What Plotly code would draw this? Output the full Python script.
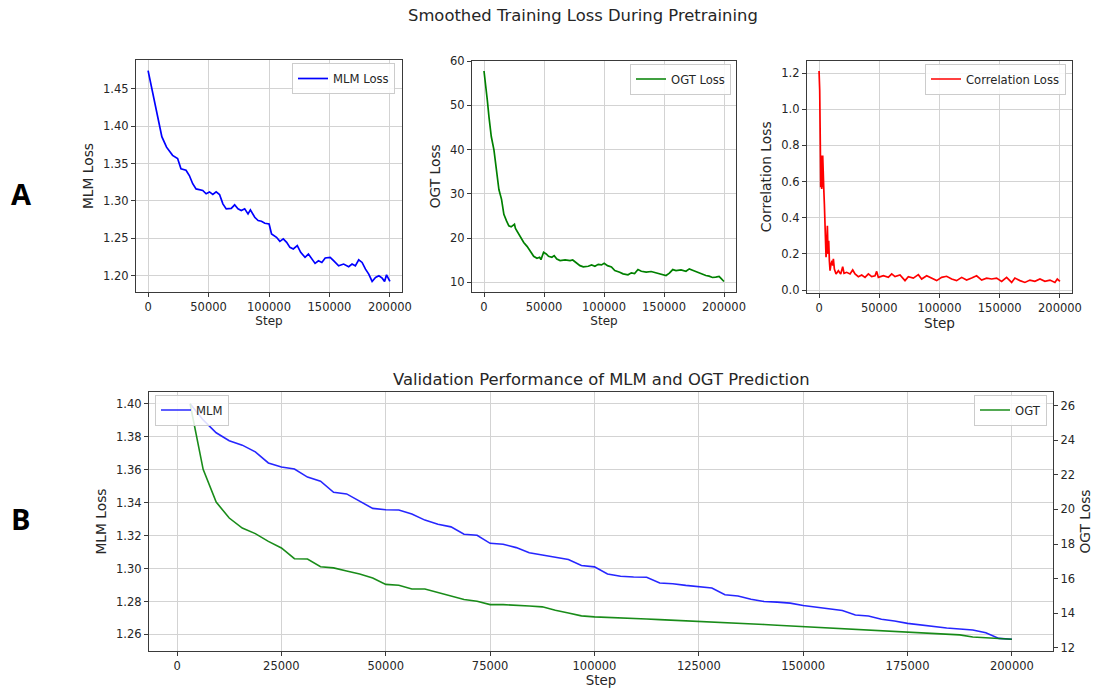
import plotly.graph_objects as go

# ---------------- data ----------------
mlm_train_steps = [0, 2219, 4993, 8600, 11373, 15257, 20250, 24411, 25800, 27190, 31350, 34120,
                   36900, 39670, 45220, 48000, 50760, 53540, 56310, 59090, 61860, 64630, 68800,
                   71570, 74340, 77120, 79890, 82660, 84600, 88200, 91000, 93760, 96540, 100100,
                   102100, 106200, 109000, 111800, 114600, 117300, 120100, 123400, 126200, 129800,
                   132600, 135400, 138100, 140900, 143700, 146500, 150600, 153400, 157600, 161700,
                   165900, 168700, 171400, 174200, 177000, 179800, 182500, 185300, 188100, 190900,
                   193600, 195600, 197200, 200000]
mlm_train_loss = [1.4747, 1.4576, 1.4397, 1.4080, 1.3860, 1.3720, 1.3610, 1.3567, 1.3500, 1.3430,
                  1.3410, 1.3340, 1.3230, 1.3160, 1.3140, 1.3095, 1.3120, 1.3086, 1.3120, 1.3086,
                  1.2960, 1.2893, 1.2900, 1.2947, 1.2893, 1.2870, 1.2893, 1.2826, 1.2880, 1.2780,
                  1.2736, 1.2727, 1.2700, 1.2691, 1.2557, 1.2512, 1.2458, 1.2490, 1.2445, 1.2377,
                  1.2355, 1.2400, 1.2310, 1.2243, 1.2287, 1.2220, 1.2162, 1.2198, 1.2175, 1.2234,
                  1.2243, 1.2198, 1.2130, 1.2153, 1.2117, 1.2153, 1.2130, 1.2211, 1.2175, 1.2085,
                  1.2018, 1.1920, 1.1973, 1.1996, 1.1964, 1.1920, 1.2009, 1.1920]

ogt_train_steps = [0, 1380, 2760, 4140, 6070, 8280, 10480, 12420, 14620, 16550, 18760, 20690,
                   22620, 24280, 25380, 26210, 28140, 30350, 33110, 35870, 38630, 41390, 44140,
                   46350, 47460, 49660, 51870, 53800, 56560, 58500, 60700, 63460, 67600, 71730,
                   73940, 77250, 80010, 82770, 86910, 89670, 92430, 95190, 97950, 100150, 102900,
                   106200, 109000, 113100, 115900, 120000, 122800, 125500, 128300, 131100, 135200,
                   139300, 143500, 147600, 151700, 154500, 157300, 160000, 164200, 168300, 171100,
                   173800, 176600, 180700, 184900, 187600, 190400, 193100, 195900, 197300, 198700,
                   200000]
ogt_train_loss = [57.76, 54.9, 51.2, 47.4, 42.96, 39.97, 35.5, 31.0, 28.76, 25.4, 23.9, 22.8,
                  22.56, 22.9, 23.15, 22.2, 21.3, 20.4, 19.04, 18.15, 16.95, 15.9, 15.46, 15.68,
                  15.16, 16.8, 16.43, 15.9, 15.68, 16.05, 15.3, 14.93, 15.08, 14.93, 15.08, 14.41,
                  13.8, 13.51, 13.66, 13.96, 13.66, 14.1, 13.96, 14.33, 13.8, 13.51, 12.69, 12.32,
                  11.94, 11.72, 12.17, 12.02, 12.91, 12.54, 12.32, 12.47, 12.17, 11.79, 11.57, 12.1,
                  12.91, 12.69, 12.84, 12.54, 13.06, 12.76, 12.47, 11.94, 11.57, 11.42, 11.12, 11.2,
                  11.35, 10.97, 10.67, 10.22]

corr_train_steps = [0, 550, 1100, 1380, 1660, 1940, 2210, 2490, 2770, 3040, 3320, 3870, 4430,
                    5260, 5810, 6360, 6920, 7470, 8020, 8570, 9130, 9960, 10800, 11340, 11890,
                    12720, 14100, 16040, 17980, 19640, 20750, 22960, 25720, 27940, 29870, 32640,
                    35400, 38170, 40940, 43700, 46470, 47850, 49230, 53380, 57530, 60300, 63070,
                    67210, 71360, 74130, 78280, 82430, 85190, 89340, 93490, 97640, 101800, 105900,
                    110100, 114200, 118400, 122500, 126700, 130800, 135000, 139100, 143300, 147400,
                    151600, 155700, 159900, 162600, 166800, 170900, 175100, 179200, 183400, 187500,
                    191700, 195800, 197800, 200000]
corr_train_loss = [1.211, 1.104, 0.772, 0.569, 0.605, 0.735, 0.559, 0.744, 0.569, 0.744, 0.605,
                   0.569, 0.476, 0.273, 0.181, 0.236, 0.356, 0.199, 0.273, 0.162, 0.107, 0.144,
                   0.162, 0.135, 0.172, 0.116, 0.089, 0.107, 0.089, 0.129, 0.092, 0.098, 0.089,
                   0.111, 0.089, 0.074, 0.083, 0.070, 0.089, 0.074, 0.079, 0.103, 0.070, 0.079,
                   0.070, 0.089, 0.074, 0.083, 0.052, 0.074, 0.066, 0.085, 0.061, 0.079, 0.066,
                   0.052, 0.070, 0.076, 0.061, 0.052, 0.070, 0.055, 0.066, 0.079, 0.055, 0.066,
                   0.061, 0.066, 0.048, 0.070, 0.042, 0.066, 0.052, 0.042, 0.055, 0.048, 0.061,
                   0.048, 0.055, 0.042, 0.061, 0.048]

val_steps = [3125, 6250, 9375, 12500, 15625, 18750, 21875, 25000, 28125, 31250, 34375, 37500,
             40625, 43750, 46875, 50000, 53125, 56250, 59375, 62500, 65625, 68750, 71875, 75000,
             78125, 81250, 84375, 87500, 90625, 93750, 96875, 100000, 103125, 106250, 109375,
             112500, 115625, 118750, 121875, 125000, 128125, 131250, 134375, 137500, 140625,
             143750, 146875, 150000, 153125, 156250, 159375, 162500, 165625, 168750, 171875,
             175000, 178125, 181250, 184375, 187500, 190625, 193750, 196875, 200000]
val_mlm = [1.4000, 1.3902, 1.3824, 1.3776, 1.3749, 1.3708, 1.3641, 1.3616, 1.3604, 1.3555,
           1.3530, 1.3463, 1.3453, 1.3408, 1.3365, 1.3357, 1.3355, 1.3331, 1.3294, 1.3269,
           1.3253, 1.3208, 1.3202, 1.3153, 1.3147, 1.3127, 1.3096, 1.3082, 1.3069, 1.3055,
           1.3018, 1.3010, 1.2967, 1.2953, 1.2949, 1.2947, 1.2912, 1.2908, 1.2898, 1.2888,
           1.2882, 1.2841, 1.2833, 1.2814, 1.2800, 1.2796, 1.2790, 1.2776, 1.2765, 1.2757,
           1.2745, 1.2718, 1.2712, 1.2692, 1.2682, 1.2667, 1.2657, 1.2647, 1.2639, 1.2633,
           1.2627, 1.2610, 1.2576, 1.2571]
val_ogt = [26.10, 22.31, 20.42, 19.50, 18.92, 18.60, 18.15, 17.77, 17.15, 17.13, 16.69, 16.62,
           16.44, 16.27, 16.04, 15.67, 15.62, 15.40, 15.40, 15.19, 15.00, 14.79, 14.69, 14.50,
           14.50, 14.48, 14.42, 14.37, 14.17, 14.02, 13.85, 13.79, 13.77, 13.74, 13.71, 13.67,
           13.63, 13.60, 13.56, 13.52, 13.49, 13.46, 13.42, 13.38, 13.35, 13.31, 13.27, 13.23,
           13.20, 13.16, 13.12, 13.09, 13.05, 13.01, 12.97, 12.94, 12.90, 12.84, 12.80, 12.75,
           12.63, 12.60, 12.55, 12.50]

top_x_ticks = [0, 50000, 100000, 150000, 200000]
bottom_x_ticks = [0, 25000, 50000, 75000, 100000, 125000, 150000, 175000, 200000]
mlm_ticks = [1.20, 1.25, 1.30, 1.35, 1.40, 1.45]
ogt_ticks = [10, 20, 30, 40, 50, 60]
corr_ticks = [0.0, 0.2, 0.4, 0.6, 0.8, 1.0, 1.2]
val_mlm_ticks = [1.26, 1.28, 1.30, 1.32, 1.34, 1.36, 1.38, 1.40]
val_ogt_ticks = [12, 14, 16, 18, 20, 22, 24, 26]


def pad_range(values, frac=0.05):
    lo, hi = min(values), max(values)
    d = (hi - lo) * frac
    return [lo - d, hi + d]


W, H = 1099, 692
FONT = "DejaVu Sans"
TXT = "#262626"
SPINE = "#3a3a3a"
GRID = "#d3d3d3"


def px_dom_x(a, b):
    return [a / W, b / W]


def px_dom_y(top, bottom):
    return [1 - bottom / H, 1 - top / H]


def axis_style(**kw):
    d = dict(showline=True, mirror=True, linecolor=SPINE, linewidth=1.2,
             ticks="outside", ticklen=4, tickcolor=SPINE, tickwidth=1,
             showgrid=True, gridcolor=GRID, gridwidth=1, zeroline=False, automargin=False,
             tickfont=dict(family=FONT, size=11.5, color=TXT))
    d.update(kw)
    return d


fig = go.Figure()

fig.add_trace(go.Scatter(x=mlm_train_steps, y=mlm_train_loss, mode="lines", name="MLM Loss",
                         line=dict(color="blue", width=1.7), xaxis="x", yaxis="y", legend="legend",
                         showlegend=True))
fig.add_trace(go.Scatter(x=ogt_train_steps, y=ogt_train_loss, mode="lines", name="OGT Loss",
                         line=dict(color="green", width=1.7), xaxis="x2", yaxis="y2", legend="legend2",
                         showlegend=True))
fig.add_trace(go.Scatter(x=corr_train_steps, y=corr_train_loss, mode="lines", name="Correlation Loss",
                         line=dict(color="red", width=1.7), xaxis="x3", yaxis="y3", legend="legend3",
                         showlegend=True))
fig.add_trace(go.Scatter(x=val_steps, y=val_mlm, mode="lines", name="MLM",
                         line=dict(color="rgba(0,0,255,0.85)", width=1.6), xaxis="x4", yaxis="y4",
                         legend="legend4", showlegend=True))
fig.add_trace(go.Scatter(x=val_steps, y=val_ogt, mode="lines", name="OGT",
                         line=dict(color="rgba(0,128,0,0.9)", width=1.6), xaxis="x4", yaxis="y5",
                         legend="legend5", showlegend=True))

top_xr = pad_range(top_x_ticks)
title_x_font = dict(family=FONT, size=12, color=TXT)
title_y_font = dict(family=FONT, size=13.8, color=TXT)

layout = dict(
    width=W, height=H, paper_bgcolor="white", plot_bgcolor="white", showlegend=True,
    margin=dict(l=0, r=0, t=0, b=0, autoexpand=False), font=dict(family=FONT, color=TXT),
    xaxis=axis_style(domain=px_dom_x(136, 402), range=top_xr, tickvals=top_x_ticks, tickformat="d",
                     anchor="y", title=dict(text="Step", font=title_x_font, standoff=2)),
    yaxis=axis_style(domain=px_dom_y(60, 292), range=pad_range(mlm_train_loss), tickvals=mlm_ticks,
                     tickformat=".2f", anchor="x",
                     title=dict(text="MLM Loss", font=title_y_font, standoff=6)),
    xaxis2=axis_style(domain=px_dom_x(472, 736), range=top_xr, tickvals=top_x_ticks, tickformat="d",
                      anchor="y2", title=dict(text="Step", font=title_x_font, standoff=2)),
    yaxis2=axis_style(domain=px_dom_y(60.5, 292), range=pad_range(ogt_train_loss), tickvals=ogt_ticks,
                      tickformat="d", anchor="x2",
                      title=dict(text="OGT Loss", font=title_y_font, standoff=6)),
    xaxis3=axis_style(domain=px_dom_x(807, 1072), range=top_xr, tickvals=top_x_ticks, tickformat="d",
                      anchor="y3",
                      title=dict(text="Step", font=dict(family=FONT, size=13.6, color=TXT), standoff=2)),
    yaxis3=axis_style(domain=px_dom_y(60.5, 293), range=pad_range(corr_train_loss), tickvals=corr_ticks,
                      tickformat=".1f", anchor="x3",
                      title=dict(text="Correlation Loss", font=title_y_font, standoff=6)),
    xaxis4=axis_style(domain=px_dom_x(149, 1053), range=pad_range(val_steps), tickvals=bottom_x_ticks,
                      tickformat="d", anchor="y4",
                      title=dict(text="Step", font=dict(family=FONT, size=13.4, color=TXT), standoff=2)),
    yaxis4=axis_style(domain=px_dom_y(392, 651), range=pad_range(val_mlm), tickvals=val_mlm_ticks,
                      tickformat=".2f", anchor="x4", mirror=False,
                      title=dict(text="MLM Loss", font=title_y_font, standoff=6)),
    yaxis5=axis_style(domain=px_dom_y(392, 651), range=pad_range(val_ogt), tickvals=val_ogt_ticks,
                      tickformat="d", anchor="x4", overlaying="y4", side="right", showgrid=False,
                      mirror=False,
                      title=dict(text="OGT Loss", font=title_y_font, standoff=6)),
)

leg_common = dict(bgcolor="rgba(255,255,255,0.85)", bordercolor="#cccccc", borderwidth=1,
                  font=dict(family=FONT, size=11.6, color=TXT), itemwidth=30,
                  yanchor="top", tracegroupgap=0, visible=True)
layout["legend"] = dict(leg_common, x=395 / W, xanchor="right", y=1 - 63 / H)
layout["legend2"] = dict(leg_common, x=731 / W, xanchor="right", y=1 - 63.5 / H)
layout["legend3"] = dict(leg_common, x=1066 / W, xanchor="right", y=1 - 63.5 / H)
layout["legend4"] = dict(leg_common, x=155 / W, xanchor="left", y=1 - 394.5 / H)
layout["legend5"] = dict(leg_common, x=1047 / W, xanchor="right", y=1 - 394.5 / H)

layout["annotations"] = [
    dict(text="Smoothed Training Loss During Pretraining", x=583 / W, y=1 - 15 / H,
         xref="paper", yref="paper", showarrow=False, xanchor="center", yanchor="middle",
         font=dict(family=FONT, size=16.4, color=TXT)),
    dict(text="Validation Performance of MLM and OGT Prediction", x=601 / W, y=1 - 379 / H,
         xref="paper", yref="paper", showarrow=False, xanchor="center", yanchor="middle",
         font=dict(family=FONT, size=16.4, color=TXT)),
    dict(text="<b>A</b>", x=21 / W, y=1 - 193.5 / H, xref="paper", yref="paper", showarrow=False,
         xanchor="center", yanchor="middle", font=dict(family="Open Sans", size=29, color="black")),
    dict(text="<b>B</b>", x=20 / W, y=1 - 518.5 / H, xref="paper", yref="paper", showarrow=False,
         xanchor="center", yanchor="middle", font=dict(family="Open Sans", size=29, color="black")),
]

fig.update_layout(**layout)
fig.write_html("out.html", config={"displayModeBar": False},
               post_script="document.body.style.margin='0px';document.body.style.overflow='hidden';")
